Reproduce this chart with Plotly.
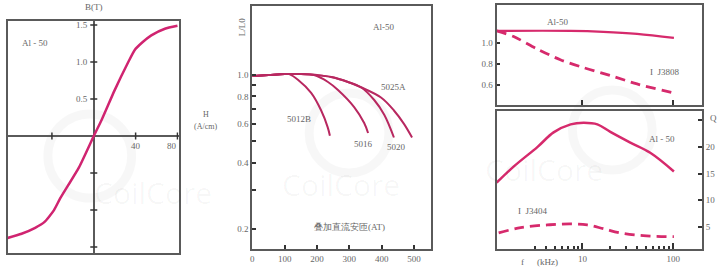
import plotly.graph_objects as go

# ---------------- data ----------------
# Panel 1: B-H curve (Al-50)
bh_H = [-83, -69, -56, -47, -38, -32, -14, 0, 7.6, 20, 33, 39, 46, 55, 68, 80]
bh_B = [-1.38, -1.32, -1.24, -1.16, -1.0, -0.84, -0.42, 0, 0.22, 0.62, 1.0, 1.16, 1.26, 1.36, 1.45, 1.49]
bh_ytick_vals = [1.5, 1.0, 0.5, -0.5, -1.0, -1.5]
bh_ytick_text = ["1.5", "1.0", "0.5", "", "", ""]
bh_xtick_vals = [-40, 40, 80]
bh_xtick_text = ["", "40", "80"]

# Panel 2: L/L0 vs DC bias ampere-turns
dc_5012B_x = [0, 50, 100, 114, 142, 182, 213, 233, 240]
dc_5012B_y = [0.99, 1.0, 1.01, 1.01, 0.95, 0.83, 0.69, 0.58, 0.53]
dc_5016_x = [0, 50, 100, 150, 191, 234, 265, 315, 346, 358]
dc_5016_y = [0.99, 1.0, 1.01, 1.01, 1.0, 0.93, 0.855, 0.715, 0.605, 0.545]
dc_5020_x = [0, 50, 100, 150, 200, 244, 296, 336, 377, 408, 438]
dc_5020_y = [0.99, 1.0, 1.01, 1.01, 1.0, 0.98, 0.93, 0.88, 0.77, 0.66, 0.52]
dc_5025A_x = [0, 50, 100, 150, 200, 244, 296, 336, 398, 438, 469, 494]
dc_5025A_y = [0.99, 1.0, 1.01, 1.01, 1.0, 0.98, 0.93, 0.88, 0.79, 0.69, 0.60, 0.52]
dc_xtick_vals = [0, 100, 200, 300, 400, 500]
dc_ytick_vals = [1.0, 0.9, 0.8, 0.7, 0.6, 0.5, 0.4, 0.3, 0.2]
dc_ytick_text = ["1.0", "", "0.8", "", "0.6", "", "0.4", "", "0.2"]

# Panel 3: inductance vs frequency
fl_al_f = [1.13, 7.4, 17, 40, 102]
fl_al_v = [1.114, 1.114, 1.105, 1.086, 1.048]
fl_j_f = [1.13, 1.74, 3.2, 5.7, 10.3, 20.3, 40, 102]
fl_j_v = [1.114, 1.06, 0.94, 0.84, 0.765, 0.69, 0.61, 0.524]
fl_ytick_vals = [1.0, 0.8, 0.6]
fl_ytick_text = ["1.0", "0.8", "0.6"]

# Panel 4: Q vs frequency
fq_al_f = [1.13, 1.74, 3.2, 4.8, 7.4, 10.3, 14.6, 20.3, 33.7, 55.9, 102]
fq_al_q = [13.3, 16.3, 20, 22.7, 24.2, 24.5, 24.2, 22.8, 20.8, 18.9, 15.4]
fq_j_f = [1.19, 2.08, 4.1, 7.4, 11.3, 17, 26.1, 46.8, 102]
fq_j_q = [3.9, 4.9, 5.4, 5.6, 5.4, 4.7, 3.9, 3.4, 3.2]
fq_ytick_vals = [5, 10, 15, 20, 25]
fq_ytick_text = ["5", "10", "15", "20", ""]
f_major = [10, 100]
f_minor = [3, 4, 5, 6, 7, 8, 9, 20, 30, 40, 50, 60, 70, 80, 90]

# ---------------- style ----------------
W, H = 720, 275
FONT = "Liberation Serif"
TXT = "#666666"
FRAME = "#5a5a5a"
C1 = "#d02470"
C2 = "#b82860"
C3 = "#d62a6c"


def px(x):
    return x / W


def py(y):
    return 1 - y / H


fig = go.Figure()

# Panel 1
fig.add_trace(go.Scatter(x=bh_H, y=bh_B, mode="lines",
                         line=dict(color=C1, width=2.5, shape="spline", smoothing=0.5),
                         xaxis="x", yaxis="y", showlegend=False, hoverinfo="skip"))
fig.add_trace(go.Scatter(x=[0] * len(bh_ytick_vals), y=bh_ytick_vals, mode="markers",
                         marker=dict(symbol="line-ew", size=5, line=dict(color="#333", width=1.5)),
                         xaxis="x", yaxis="y", showlegend=False, hoverinfo="skip"))
fig.add_trace(go.Scatter(x=bh_xtick_vals, y=[0] * len(bh_xtick_vals), mode="markers",
                         marker=dict(symbol="line-ns", size=5, line=dict(color="#333", width=1.5)),
                         xaxis="x", yaxis="y", showlegend=False, hoverinfo="skip"))

# Panel 2
for xs, ys in [(dc_5012B_x, dc_5012B_y), (dc_5016_x, dc_5016_y), (dc_5020_x, dc_5020_y), (dc_5025A_x, dc_5025A_y)]:
    fig.add_trace(go.Scatter(x=xs, y=ys, mode="lines", line=dict(color=C2, width=2, shape="spline"),
                             xaxis="x2", yaxis="y2", showlegend=False, hoverinfo="skip"))

# Panel 3
fig.add_trace(go.Scatter(x=fl_al_f, y=fl_al_v, mode="lines", line=dict(color=C3, width=2.2, shape="spline"),
                         xaxis="x3", yaxis="y3", showlegend=False, hoverinfo="skip"))
fig.add_trace(go.Scatter(x=fl_j_f, y=fl_j_v, mode="lines",
                         line=dict(color=C3, width=2.8, dash="10px,6px", shape="spline", smoothing=0.8),
                         xaxis="x3", yaxis="y3", showlegend=False, hoverinfo="skip"))

# Panel 4
fig.add_trace(go.Scatter(x=fq_al_f, y=fq_al_q, mode="lines", line=dict(color=C3, width=2.5, shape="spline"),
                         xaxis="x4", yaxis="y4", showlegend=False, hoverinfo="skip"))
fig.add_trace(go.Scatter(x=fq_j_f, y=fq_j_q, mode="lines",
                         line=dict(color=C3, width=2.8, dash="10px,6px", shape="spline"),
                         xaxis="x4", yaxis="y4", showlegend=False, hoverinfo="skip"))

frame = dict(showline=True, mirror=True, linecolor=FRAME, linewidth=2, showgrid=False, zeroline=False,
             tickfont=dict(family=FONT, size=9, color=TXT))

layout = dict(
    width=W, height=H, margin=dict(l=0, r=0, t=0, b=0),
    paper_bgcolor="white", plot_bgcolor="rgba(0,0,0,0)",
    xaxis=dict(**{**frame, "zeroline": True}, domain=[px(6), px(177)], range=[-82, 81],
               showticklabels=False, ticks="", zerolinecolor=FRAME, zerolinewidth=1.5),
    yaxis=dict(**{**frame, "zeroline": True}, domain=[py(253), py(21)], range=[-1.58, 1.554],
               showticklabels=False, ticks="", zerolinecolor=FRAME, zerolinewidth=1.5),
    xaxis2=dict(**frame, domain=[px(251), px(430)], range=[0, 552], anchor="y2",
                tickvals=dc_xtick_vals, ticks="inside", ticklen=4, tickcolor="#333", tickwidth=1.5),
    yaxis2=dict(**frame, domain=[py(249), py(6)], type="log", range=[-0.791, 0.314], anchor="x2",
                tickvals=dc_ytick_vals, ticktext=dc_ytick_text, ticks="inside", ticklen=4,
                tickcolor="#333", tickwidth=1.5),
    xaxis3=dict(**frame, domain=[px(496), px(702)], type="log", range=[0.053, 2.319], anchor="y3",
                tickvals=f_major, showticklabels=False, ticks="inside", ticklen=5, tickcolor="#333", tickwidth=1.5),
    yaxis3=dict(**frame, domain=[py(105), py(5)], range=[0.41, 1.36], anchor="x3",
                tickvals=fl_ytick_vals, ticktext=fl_ytick_text, ticks="inside", ticklen=3,
                tickcolor="#333", tickwidth=1.5),
    xaxis4=dict(**frame, domain=[px(496), px(702)], type="log", range=[0.053, 2.319], anchor="y4",
                tickvals=f_major, ticktext=["10", "100"], ticks="inside", ticklen=6, tickcolor="#333", tickwidth=1.5,
                minor=dict(tickvals=f_minor, ticks="inside", ticklen=3, tickcolor="#333", tickwidth=1.5)),
    yaxis4=dict(**frame, domain=[py(249), py(111)], range=[0.9, 26.7], anchor="x4", side="right",
                tickvals=fq_ytick_vals, ticktext=fq_ytick_text, ticks="inside", ticklen=4,
                tickcolor="#333", tickwidth=1.5),
)
fig.update_layout(**layout)

ann = []


def label(text, x, y, size=9, xanchor="center", yanchor="middle", angle=0):
    ann.append(dict(text=text, x=px(x), y=py(y), xref="paper", yref="paper", showarrow=False,
                    xanchor=xanchor, yanchor=yanchor, textangle=angle,
                    font=dict(family=FONT, size=size, color=TXT)))


# panel 1 tick labels (on the crossing axes)
for v, t in zip(bh_ytick_vals, bh_ytick_text):
    if t:
        ann.append(dict(text=t, x=0, y=v, xref="x", yref="y", showarrow=False, xanchor="right",
                        xshift=-4, font=dict(family=FONT, size=9, color=TXT)))
for v, t in zip(bh_xtick_vals, bh_xtick_text):
    if t:
        ann.append(dict(text=t, x=v, y=0, xref="x", yref="y", showarrow=False, yanchor="top",
                        xshift=-5 if v == 80 else 0, yshift=-3,
                        font=dict(family=FONT, size=9, color=TXT)))
label("B(T)", 92, 7)
label("Al - 50", 33, 43)
label("H", 205, 114, size=8)
label("(A/cm)", 204, 126, size=8)

# panel 2
label("L/L0", 241, 27, angle=-90)
label("Al-50", 383, 27)
label("5025A", 393, 87)
label("5012B", 298, 119)
label("5016", 363, 144)
label("5020", 396, 147)
label("叠加直流安匝(AT)", 348, 227, size=9)

# panel 3
label("Al-50", 557, 22)
label("I  J3808", 665, 72)

# panel 4
label("Al - 50", 662, 139)
label("I  J3404", 532, 211)
label("f", 522, 262)
label("(kHz)", 547, 262)
label("Q", 713, 118)

# faint watermark
for cx, cy in [(90, 215), (340, 207), (605, 192)]:
    ann.append(dict(text="CoilCore", x=px(cx), y=py(cy), xref="paper", yref="paper", showarrow=False,
                    font=dict(family="Open Sans", size=30, color="rgba(0,0,0,0.035)")))
fig.update_layout(annotations=ann)

shapes = []
for cx, cy, r in [(88, 156, 42), (348, 133, 40), (612, 130, 40)]:
    shapes.append(dict(type="circle", xref="paper", yref="paper", x0=px(cx - r), x1=px(cx + r),
                       y0=py(cy + r), y1=py(cy - r), line=dict(color="rgba(0,0,0,0.03)", width=9), layer="below"))
fig.update_layout(shapes=shapes)

fig.write_html("out.html")
